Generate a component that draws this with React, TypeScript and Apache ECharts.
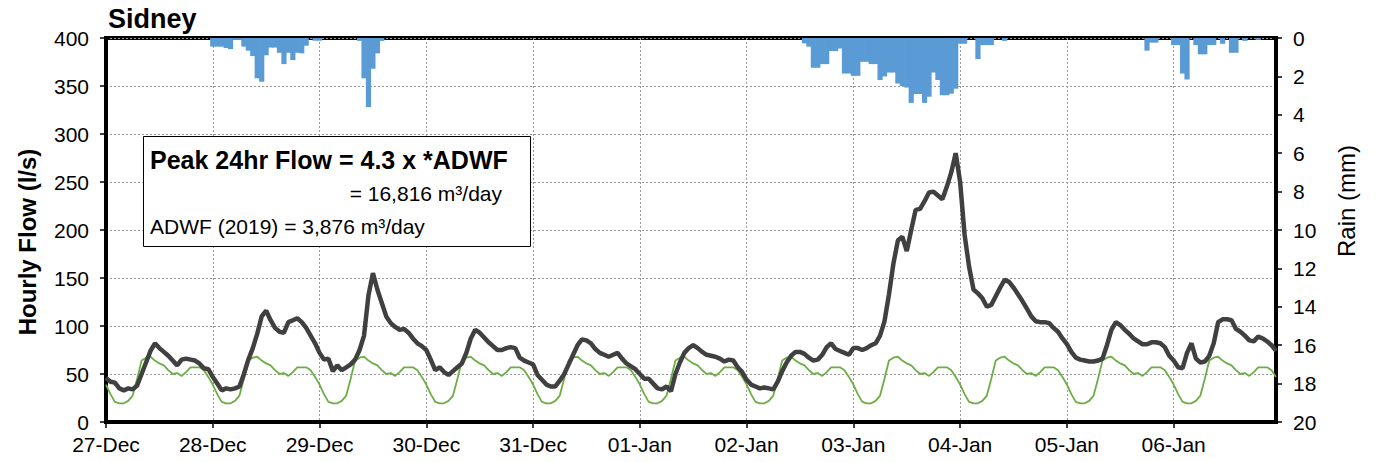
import React, { useEffect, useRef } from 'react';
import * as echarts from 'echarts';

// Day tick labels (one category per hour, 24 per day)
const dayLabels = ['27-Dec', '28-Dec', '29-Dec', '30-Dec', '31-Dec', '01-Jan', '02-Jan', '03-Jan', '04-Jan', '05-Jan', '06-Jan'];

// Hourly flow (l/s), one row per day
const flowByDay = [
  [46, 42, 41, 35, 33, 35, 34, 38, 50, 62, 74, 82, 77, 73, 69, 64, 59, 65, 66, 65, 64, 61, 56, 55],
  [47, 40, 33, 35, 34, 35, 37, 50, 65, 77, 92, 110, 116, 106, 98, 94, 93, 104, 106, 108, 104, 98, 90, 82],
  [72, 65, 66, 53, 59, 54, 57, 60, 65, 75, 90, 132, 155, 138, 124, 110, 103, 99, 96, 97, 93, 87, 82, 79],
  [75, 65, 54, 57, 52, 49, 53, 57, 61, 72, 87, 96, 93, 88, 83, 79, 75, 75, 77, 78, 77, 67, 64, 62],
  [60, 49, 44, 39, 37, 37, 43, 50, 60, 70, 80, 86, 85, 82, 76, 72, 70, 68, 70, 72, 66, 61, 58, 55],
  [50, 45, 45, 40, 35, 34, 37, 32, 50, 62, 72, 77, 80, 77, 73, 70, 69, 68, 66, 63, 65, 64, 57, 52],
  [44, 39, 37, 35, 36, 35, 34, 42, 53, 62, 69, 73, 73, 71, 67, 64, 65, 70, 78, 82, 76, 74, 72, 70],
  [77, 77, 75, 77, 80, 82, 90, 105, 133, 165, 189, 193, 178, 200, 221, 222, 230, 239, 240, 236, 232, 245, 260, 280],
  [250, 195, 162, 138, 134, 129, 120, 122, 131, 140, 148, 146, 140, 133, 126, 118, 110, 105, 104, 104, 103, 98, 94, 87],
  [81, 73, 67, 65, 64, 63, 63, 64, 66, 80, 96, 104, 101, 96, 92, 87, 84, 81, 81, 83, 83, 82, 78, 69],
  [64, 57, 56, 72, 82, 66, 62, 63, 69, 82, 104, 107, 107, 106, 97, 94, 90, 85, 84, 89, 87, 84, 80, 74],
];

// Hourly ADWF curve (l/s), one row per day
const adwfByDay = [
  [39, 29, 21, 19.5, 19.5, 22, 27.5, 45, 64, 67, 68, 64, 61, 59, 54, 50, 51, 48, 52, 57, 57, 57, 54, 47],
  [39, 29, 21, 19.5, 19.5, 22, 27.5, 45, 64, 67, 68, 64, 61, 59, 54, 50, 51, 48, 52, 57, 57, 57, 54, 47],
  [39, 29, 21, 19.5, 19.5, 22, 27.5, 45, 64, 67, 68, 64, 61, 59, 54, 50, 51, 48, 52, 57, 57, 57, 54, 47],
  [39, 29, 21, 19.5, 19.5, 22, 27.5, 45, 64, 67, 68, 64, 61, 59, 54, 50, 51, 48, 52, 57, 57, 57, 54, 47],
  [39, 29, 21, 19.5, 19.5, 22, 27.5, 45, 64, 67, 68, 64, 61, 59, 54, 50, 51, 48, 52, 57, 57, 57, 54, 47],
  [39, 29, 21, 19.5, 19.5, 22, 27.5, 45, 64, 67, 68, 64, 61, 59, 54, 50, 51, 48, 52, 57, 57, 57, 54, 47],
  [39, 29, 21, 19.5, 19.5, 22, 27.5, 45, 64, 67, 68, 64, 61, 59, 54, 50, 51, 48, 52, 57, 57, 57, 54, 47],
  [39, 29, 21, 19.5, 19.5, 22, 27.5, 45, 64, 67, 68, 64, 61, 59, 54, 50, 51, 48, 52, 57, 57, 57, 54, 47],
  [39, 29, 21, 19.5, 19.5, 22, 27.5, 45, 64, 67, 68, 64, 61, 59, 54, 50, 51, 48, 52, 57, 57, 57, 54, 47],
  [39, 29, 21, 19.5, 19.5, 22, 27.5, 45, 64, 67, 68, 64, 61, 59, 54, 50, 51, 48, 52, 57, 57, 57, 54, 47],
  [39, 29, 21, 19.5, 19.5, 22, 27.5, 45, 64, 67, 68, 64, 61, 59, 54, 50, 51, 48, 52, 57, 57, 57, 54, 47],
];

// Hourly rain (mm), one row per day
const rainByDay = [
  [0, 0, 0, 0, 0, 0, 0, 0, 0, 0, 0, 0, 0, 0, 0, 0, 0, 0, 0, 0, 0, 0, 0, 0],
  [0.45, 0.45, 0.45, 0.52, 0.58, 0.1, 0.1, 0.45, 0.66, 0.94, 2.1, 2.28, 0.9, 0.5, 0.5, 0.77, 1.36, 0.77, 1.15, 0.77, 0.8, 0.4, 0, 0.14],
  [0.14, 0, 0, 0, 0, 0, 0, 0, 0, 0.15, 2.1, 3.6, 1.6, 0.8, 0.15, 0, 0, 0, 0, 0, 0, 0, 0, 0],
  [0, 0, 0, 0, 0, 0, 0, 0, 0, 0, 0, 0, 0, 0, 0, 0, 0, 0, 0, 0, 0, 0, 0, 0],
  [0, 0, 0, 0, 0, 0, 0, 0, 0, 0, 0, 0, 0, 0, 0, 0, 0, 0, 0, 0, 0, 0, 0, 0],
  [0, 0, 0, 0, 0, 0, 0, 0, 0, 0, 0, 0, 0, 0, 0, 0, 0, 0, 0, 0, 0, 0, 0, 0],
  [0, 0, 0, 0, 0, 0, 0, 0, 0, 0, 0, 0, 0, 0.28, 0.45, 1.55, 1.55, 1.36, 1.36, 0.68, 0.68, 0.55, 1.85, 1.85],
  [1.97, 1.97, 1.24, 1.24, 1.36, 1.36, 2.19, 2.0, 1.8, 1.8, 2.37, 2.5, 2.58, 3.38, 2.92, 2.92, 3.38, 3.06, 1.8, 2.19, 2.98, 2.98, 2.9, 2.64],
  [0.3, 0.3, 0, 0, 1.1, 0.37, 0.37, 0.37, 0, 0, 0.15, 0, 0, 0, 0, 0, 0, 0, 0, 0, 0, 0, 0, 0],
  [0, 0, 0, 0, 0, 0, 0, 0, 0, 0, 0, 0, 0, 0, 0, 0, 0, 0, 0.66, 0.24, 0.24, 0, 0, 0],
  [0.37, 0.37, 1.85, 2.16, 0, 0.37, 0.85, 0.85, 0.37, 0.37, 0, 0.3, 0, 0.77, 0.77, 0, 0.15, 0, 0, 0.1, 0, 0, 0, 0],
];

const hourCategories = dayLabels.flatMap((d) =>
  Array.from({ length: 24 }, (_, h) => `${d} ${String(h).padStart(2, '0')}:00`)
);
const flow = flowByDay.flat();
const adwf = adwfByDay.flat();
const rain = rainByDay.flat();

const FONT = '"Liberation Sans", Arial, sans-serif';
const isDayStart = (i: number) => i % 24 === 0;

export default function App() {
  const ref = useRef<HTMLDivElement>(null);

  useEffect(() => {
    if (!ref.current) return;
    const chart = echarts.init(ref.current, undefined, { renderer: 'svg' });
    const gridLine = { show: true, lineStyle: { color: '#9a9a9a', type: [2, 2] as number[], width: 1 } };
    chart.setOption({
      animation: false,
      textStyle: { fontFamily: FONT },
      grid: {
        left: 106, right: 103, top: 38, bottom: 40,
        show: true, borderColor: '#000', borderWidth: 4, backgroundColor: 'transparent',
      },
      xAxis: {
        type: 'category',
        data: hourCategories,
        boundaryGap: false,
        axisLine: { show: true, lineStyle: { color: '#000', width: 4 } },
        axisTick: { show: true, interval: isDayStart, length: 6, lineStyle: { color: '#000', width: 1.5 } },
        axisLabel: {
          interval: isDayStart,
          formatter: (v: string) => v.split(' ')[0],
          fontSize: 21, color: '#000', margin: 12, fontFamily: FONT,
        },
        splitLine: { ...gridLine, interval: isDayStart },
      },
      yAxis: [
        {
          type: 'value', min: 0, max: 400, interval: 50, position: 'left',
          axisLine: { show: true, lineStyle: { color: '#000', width: 4 } },
          axisTick: { show: true, length: 6, lineStyle: { color: '#000', width: 1.5 } },
          axisLabel: { fontSize: 21, color: '#000', margin: 17, fontFamily: FONT },
          splitLine: gridLine,
        },
        {
          type: 'value', min: 0, max: 20, interval: 2, inverse: true, position: 'right',
          axisLine: { show: true, lineStyle: { color: '#000', width: 4 } },
          axisTick: { show: true, length: 6, lineStyle: { color: '#000', width: 1.5 } },
          axisLabel: { fontSize: 21, color: '#000', margin: 17, fontFamily: FONT },
          splitLine: { show: false },
        },
      ],
      series: [
        {
          type: 'bar', name: 'Rain', yAxisIndex: 1, data: rain, barWidth: 5.2,
          itemStyle: { color: '#5b9bd5' }, z: 3,
        },
        {
          type: 'line', name: 'ADWF', yAxisIndex: 0, data: adwf, symbol: 'none',
          lineStyle: { color: '#6cad45', width: 1.8 }, z: 4,
        },
        {
          type: 'line', name: 'Flow', yAxisIndex: 0, data: flow, symbol: 'none',
          lineStyle: { color: '#404040', width: 4.5 }, z: 5,
        },
      ],
      graphic: [
        {
          type: 'text', x: 108, y: 19, z: 10,
          style: { text: 'Sidney', font: `bold 27px ${FONT}`, fill: '#000', align: 'left', verticalAlign: 'middle' },
        },
        {
          type: 'rect', z: 10,
          shape: { x: 143.5, y: 136.5, width: 387, height: 110 },
          style: { fill: '#fff', stroke: '#000', lineWidth: 1 },
        },
        {
          type: 'text', x: 150, y: 160, z: 11,
          style: { text: 'Peak 24hr Flow = 4.3 x *ADWF', font: `bold 25px ${FONT}`, fill: '#000', align: 'left', verticalAlign: 'middle' },
        },
        {
          type: 'text', x: 502, y: 193, z: 11,
          style: { text: '= 16,816 m³/day', font: `21px ${FONT}`, fill: '#000', align: 'right', verticalAlign: 'middle' },
        },
        {
          type: 'text', x: 150, y: 226, z: 11,
          style: { text: 'ADWF (2019) = 3,876 m³/day', font: `21px ${FONT}`, fill: '#000', align: 'left', verticalAlign: 'middle' },
        },
        {
          type: 'text', x: 27, y: 242, rotation: Math.PI / 2, z: 10,
          style: { text: 'Hourly Flow (l/s)', font: `bold 24px ${FONT}`, fill: '#000', align: 'center', verticalAlign: 'middle' },
        },
        {
          type: 'text', x: 1346, y: 201, rotation: Math.PI / 2, z: 10,
          style: { text: 'Rain (mm)', font: `24px ${FONT}`, fill: '#000', align: 'center', verticalAlign: 'middle' },
        },
      ],
    });
    return () => chart.dispose();
  }, []);

  return (
    <div
      ref={ref}
      style={{ position: 'absolute', left: 0, top: 0, width: 1379, height: 462, background: '#fff' }}
    />
  );
}
